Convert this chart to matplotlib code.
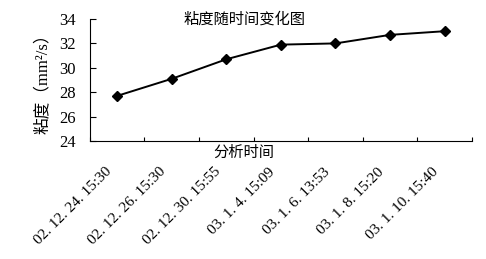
import matplotlib
matplotlib.use("Agg")
import matplotlib.pyplot as plt

plt.rcParams['font.family'] = ['Liberation Serif', 'Noto Sans CJK SC', 'DejaVu Sans']

categories = ["02. 12. 24. 15:30", "02. 12. 26. 15:30", "02. 12. 30. 15:55",
              "03. 1. 4. 15:09", "03. 1. 6. 13:53", "03. 1. 8. 15:20", "03. 1. 10. 15:40"]
viscosity = [27.7, 29.1, 30.7, 31.9, 32.0, 32.7, 33.0]
yticks = [24, 26, 28, 30, 32, 34]

fig = plt.figure(figsize=(4.86, 2.59), dpi=100)
ax = fig.add_axes([0.185, 0.4556, 0.786, 0.471])

x = list(range(len(categories)))
ax.plot(x, viscosity, color='black', lw=1.4, marker='D', markersize=5,
        markerfacecolor='black', markeredgecolor='black')

ax.set_xlim(-0.5, len(categories) - 0.5)
ax.set_ylim(24, 34)
ax.set_yticks(yticks)
ax.set_yticklabels([str(v) for v in yticks], fontsize=12)

# category boundaries as ticks; category labels placed at centres
ax.set_xticks([i - 0.5 for i in range(len(categories) + 1)])
ax.set_xticklabels([])
for xi, lab in zip(x, categories):
    ax.annotate(lab, xy=(xi, 0), xycoords=ax.get_xaxis_transform(),
                xytext=(-9, -17.5), textcoords='offset points',
                rotation=45, ha='right', va='top', rotation_mode='anchor',
                fontsize=11, annotation_clip=False)
ax.tick_params(axis='x', which='major', direction='in', length=3)
ax.tick_params(axis='y', direction='in', length=4, pad=10)

for s in ['top', 'right']:
    ax.spines[s].set_visible(False)

ax.set_ylabel("粘度（mm²/s）", fontsize=12, labelpad=6)
ax.text(0.405, 1.07, "粘度随时间变化图", transform=ax.transAxes, ha='center', va='top',
        fontsize=11, family=['Noto Sans CJK SC'])
ax.text(0.403, -0.02, "分析时间", transform=ax.transAxes, ha='center', va='top',
        fontsize=11, family=['Noto Sans CJK SC'])

fig.savefig("out.png", dpi=100)
